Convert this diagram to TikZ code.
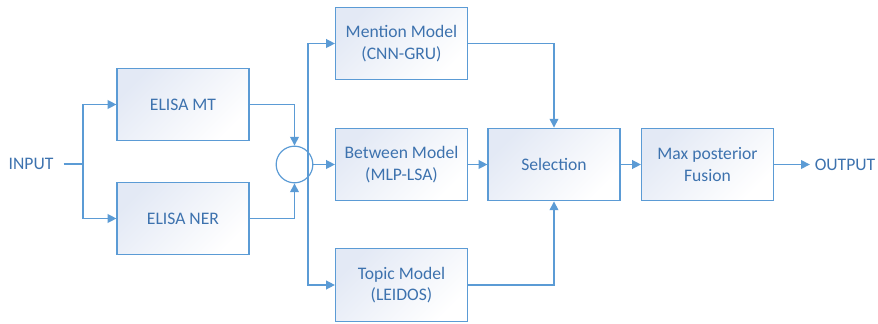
\documentclass[tikz,border=0pt]{standalone}
\usepackage{fontspec}
\setmainfont{Carlito}
\usetikzlibrary{arrows.meta}

\definecolor{lineblue}{HTML}{5B9BD5}
\definecolor{textblue}{HTML}{3D72AE}
\definecolor{boxtint}{HTML}{E3E9F5}

\tikzset{every picture/.style={line width=0.75pt}}
\tikzset{
  box/.style={draw=lineblue, line width=0.9pt, top color=boxtint, bottom color=white, shading angle=45,
    minimum width=99pt, minimum height=54.5pt, align=center, text=textblue, font=\fontsize{13.2}{16}\selectfont},
  label/.style={text=textblue, font=\fontsize{13.2}{16}\selectfont},
  conn/.style={draw=lineblue, line width=1pt},
  arr/.style={conn, -{Triangle[length=6.5pt,width=6.5pt]}}
}

\begin{document}
\begin{tikzpicture}[x=0.75pt,y=0.75pt,yscale=-1,xscale=1]
	\useasboundingbox (0,0) rectangle (878,324);

	% Input side
	\node[label] (in) at (31,164) {INPUT};
	\node[box] (mt) at (183,104.5) {ELISA MT};
	\node[box] (ner) at (183,218.5) {ELISA NER};
	\coordinate (split) at (83,164);

	% Merge
	\node[draw=lineblue, line width=0.9pt, fill=white, circle, minimum size=27.5pt, inner sep=0pt] (sum) at (294.5,164.5) {};
	\coordinate (fork) at (308,164.5);

	% Models
	\node[box] (mention) at (401.5,43.5) {Mention Model\\(CNN-GRU)};
	\node[box] (between) at (401.5,164.5) {Between Model\\(MLP-LSA)};
	\node[box] (topic) at (401.5,285) {Topic Model\\(LEIDOS)};

	% Output side
	\node[box] (sel) at (554,164.5) {Selection};
	\node[box] (fusion) at (707.5,164.5) {Max posterior\\Fusion};
	\node[label] (out) at (845,164.5) {OUTPUT};

	% Connectors
	\draw[conn] (in.east) ++(4pt,0) -- (split);
	\draw[arr] (split) |- (mt.west);
	\draw[arr] (split) |- (ner.west);
	\draw[arr] (mt.east) -| (sum.north);
	\draw[arr] (ner.east) -| (sum.south);
	\draw[arr] (sum.east) -- (between.west);
	\draw[arr] (fork) |- (mention.west);
	\draw[arr] (fork) |- (topic.west);
	\draw[arr] (mention.east) -| (sel.north);
	\draw[arr] (topic.east) -| (sel.south);
	\draw[arr] (between.east) -- (sel.west);
	\draw[arr] (sel.east) -- (fusion.west);
	\draw[arr] (fusion.east) -- (out.west);

\end{tikzpicture}
\end{document}
